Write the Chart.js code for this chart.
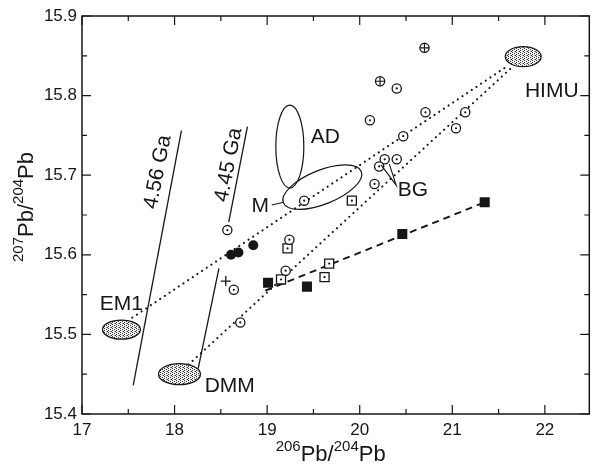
<!DOCTYPE html>
<html>
<head>
<meta charset="utf-8">
<title>207Pb/204Pb vs 206Pb/204Pb</title>
<script src="https://cdn.jsdelivr.net/npm/chart.js@4"></script>
<style>
    html, body { margin: 0; padding: 0; background: #fff; }
    #wrap { width: 597px; height: 465px; }
</style>
</head>
<body>
<div id="wrap"><canvas id="pbChart" width="597" height="465"></canvas></div>
<script>
// Tick labels
const xTicks = [17, 18, 19, 20, 21, 22];
const yTicks = [15.4, 15.5, 15.6, 15.7, 15.8, 15.9];

// Samples (206Pb/204Pb, 207Pb/204Pb)
const dotCirclesX = [18.57, 18.64, 18.71, 19.40, 19.24, 19.20, 20.16, 20.11, 20.40, 20.71, 20.47, 20.27, 20.21, 20.40, 21.04, 21.14];
const dotCirclesY = [15.631, 15.556, 15.515, 15.668, 15.619, 15.580, 15.689, 15.769, 15.809, 15.779, 15.749, 15.720, 15.711, 15.720, 15.759, 15.779];
const plusCirclesX = [20.70, 20.22];
const plusCirclesY = [15.860, 15.818];
const dotSquaresX = [19.915, 19.22, 19.15, 19.67, 19.62];
const dotSquaresY = [15.668, 15.608, 15.569, 15.589, 15.572];
const blackSquaresX = [19.01, 19.43, 20.46, 21.35];
const blackSquaresY = [15.565, 15.560, 15.626, 15.666];
const blackCirclesX = [18.61, 18.69, 18.85];
const blackCirclesY = [15.600, 15.603, 15.612];
const crossX = [18.553];
const crossY = [15.567];

// Lines
const trendX = [18.98, 21.35];
const trendY = [15.555, 15.666];
const em1HimuX = [17.543, 21.606];
const em1HimuY = [15.521, 15.838];
const dmmHimuX = [18.15, 21.63];
const dmmHimuY = [15.462, 15.834];
const geo456X = [17.553, 18.074];
const geo456Y = [15.436, 15.756];
const geo445LowX = [18.255, 18.479];
const geo445LowY = [15.457, 15.583];
const geo445HighX = [18.585, 18.787];
const geo445HighY = [15.641, 15.761];

// Mantle end-members
const endMembers = ['EM1', 'DMM', 'HIMU'];
const endMemberX = [17.426, 18.053, 21.766];
const endMemberY = [15.506, 15.450, 15.849];

const INK = '#161616';
const FONT = '"Liberation Sans", Arial, sans-serif';

function pairs(xs, ys) {
    return xs.map((x, i) => ({ x: x, y: ys[i] }));
}

// Ellipses, labels and frame are drawn on top of the chart scales
const annotations = {
    id: 'annotations',
    beforeDatasetsDraw(chart) {
        const { ctx, scales: { x, y } } = chart;
        const pattern = makeStipple(ctx);
        const radii = [[19, 9.5], [21, 10.5], [18, 10]];
        ctx.save();
        ctx.strokeStyle = INK;
        ctx.lineWidth = 1.2;
        endMembers.forEach((name, i) => {
            ctx.beginPath();
            ctx.ellipse(x.getPixelForValue(endMemberX[i]), y.getPixelForValue(endMemberY[i]),
                radii[i][0], radii[i][1], 0, 0, Math.PI * 2);
            ctx.fillStyle = pattern;
            ctx.fill();
            ctx.stroke();
        });
        // AD field
        ctx.beginPath();
        ctx.ellipse(x.getPixelForValue(19.245), y.getPixelForValue(15.736), 14, 41.5, 0, 0, Math.PI * 2);
        ctx.stroke();
        // M field
        ctx.beginPath();
        ctx.ellipse(x.getPixelForValue(19.596), y.getPixelForValue(15.685), 42, 17, -22 * Math.PI / 180, 0, Math.PI * 2);
        ctx.stroke();
        ctx.restore();
    },
    afterDatasetsDraw(chart) {
        const { ctx, scales: { x, y } } = chart;
        const px = v => x.getPixelForValue(v);
        const py = v => y.getPixelForValue(v);
        ctx.save();
        ctx.fillStyle = INK;
        ctx.strokeStyle = INK;

        // inner dot / plus of the open symbols, at the library's point positions
        chart.getSortedVisibleDatasetMetas().forEach(meta => {
            const mark = chart.data.datasets[meta.index].innerMark;
            if (!mark) return;
            meta.data.forEach(pt => {
                if (mark === 'dot') {
                    ctx.beginPath();
                    ctx.arc(pt.x, pt.y, 1.1, 0, Math.PI * 2);
                    ctx.fill();
                } else {
                    ctx.lineWidth = 1.2;
                    ctx.beginPath();
                    ctx.moveTo(pt.x - 4.6, pt.y); ctx.lineTo(pt.x + 4.6, pt.y);
                    ctx.moveTo(pt.x, pt.y - 4.6); ctx.lineTo(pt.x, pt.y + 4.6);
                    ctx.stroke();
                }
            });
        });

        ctx.font = '21px ' + FONT;
        ctx.textAlign = 'center';
        ctx.textBaseline = 'middle';
        const labels = [
            ['EM1', 17.426, 15.5385],
            ['DMM', 18.596, 15.435],
            ['HIMU', 22.074, 15.805],
            ['AD', 19.628, 15.748],
            ['BG', 20.574, 15.681],
            ['M', 18.926, 15.661]
        ];
        labels.forEach(l => ctx.fillText(l[0], px(l[1]), py(l[2])));

        // rotated age labels
        [['4.56 Ga', 17.819, 15.704], ['4.45 Ga', 18.585, 15.713]].forEach(l => {
            ctx.save();
            ctx.translate(px(l[1]), py(l[2]));
            ctx.rotate(-79 * Math.PI / 180);
            ctx.fillText(l[0], 0, 0);
            ctx.restore();
        });

        // leader for M and arrow for BG
        ctx.lineWidth = 1.1;
        ctx.beginPath();
        ctx.moveTo(px(19.05), py(15.6625));
        ctx.lineTo(px(19.18), py(15.666));
        ctx.moveTo(px(20.23), py(15.713));
        ctx.lineTo(px(20.394), py(15.6875));
        ctx.lineTo(px(20.32), py(15.714));
        ctx.stroke();
        ctx.restore();
    },
    afterDraw(chart) {
        const { ctx, chartArea: a, scales: { x, y } } = chart;
        ctx.save();
        ctx.strokeStyle = INK;
        ctx.lineWidth = 1.5;
        ctx.strokeRect(a.left, a.top, a.right - a.left, a.bottom - a.top);
        ctx.lineWidth = 1.2;
        ctx.beginPath();
        for (let v = 17; v <= 22.25; v += 0.5) {
            const p = x.getPixelForValue(v);
            const len = Number.isInteger(v) ? 9 : 5;
            ctx.moveTo(p, a.bottom); ctx.lineTo(p, a.bottom - len);
            ctx.moveTo(p, a.top); ctx.lineTo(p, a.top + len);
        }
        for (let k = 0; k <= 10; k++) {
            const p = y.getPixelForValue(15.4 + k * 0.05);
            const len = k % 2 === 0 ? 9 : 5;
            ctx.moveTo(a.left, p); ctx.lineTo(a.left + len, p);
            ctx.moveTo(a.right, p); ctx.lineTo(a.right - len, p);
        }
        ctx.stroke();

        // axis titles with superscripts
        drawIsotopeTitle(ctx, '206', '204', (a.left + a.right) / 2 - 5, 461, 0);
        drawIsotopeTitle(ctx, '207', '204', 33, 207, -Math.PI / 2);
        ctx.restore();
    }
};

function makeStipple(ctx) {
    const c = document.createElement('canvas');
    c.width = 4;
    c.height = 4;
    const g = c.getContext('2d');
    g.fillStyle = '#eeeeee';
    g.fillRect(0, 0, 4, 4);
    g.fillStyle = '#3a3a3a';
    g.fillRect(0, 0, 1, 1);
    g.fillRect(2, 1, 1, 1);
    g.fillRect(0, 2, 1, 1);
    g.fillRect(3, 3, 1, 1);
    g.fillStyle = '#999';
    g.fillRect(2, 3, 1, 1);
    return ctx.createPattern(c, 'repeat');
}

function drawIsotopeTitle(ctx, top, bottom, cx, cy, angle) {
    const big = '22px ' + FONT;
    const small = '15px ' + FONT;
    const parts = [[top, small, -10], ['Pb/', big, 0], [bottom, small, -10], ['Pb', big, 0]];
    let total = 0;
    parts.forEach(p => { ctx.font = p[1]; p.push(ctx.measureText(p[0]).width); total += p[3]; });
    ctx.save();
    ctx.translate(cx, cy);
    ctx.rotate(angle);
    ctx.fillStyle = INK;
    ctx.textAlign = 'left';
    ctx.textBaseline = 'alphabetic';
    let cur = -total / 2;
    parts.forEach(p => {
        ctx.font = p[1];
        ctx.fillText(p[0], cur, p[2]);
        cur += p[3];
    });
    ctx.restore();
}

function lineSet(xs, ys, dash, width) {
    return {
        type: 'line',
        data: pairs(xs, ys),
        borderColor: INK,
        borderWidth: width,
        borderDash: dash,
        borderCapStyle: dash.length && dash[0] < 1 ? 'round' : 'butt',
        pointRadius: 0,
        fill: false,
        order: 5
    };
}

function pointSet(xs, ys, style, extra) {
    return Object.assign({
        type: 'scatter',
        data: pairs(xs, ys),
        pointStyle: style,
        borderColor: INK,
        backgroundColor: INK,
        order: 1
    }, extra || {});
}

const openStyle = { pointRadius: 4.6, borderWidth: 1.3, backgroundColor: '#fff' };

const ctx = document.getElementById('pbChart').getContext('2d');

new Chart(ctx, {
    type: 'scatter',
    data: {
        datasets: [
            pointSet(dotCirclesX, dotCirclesY, 'circle', Object.assign({ innerMark: 'dot' }, openStyle)),
            pointSet(plusCirclesX, plusCirclesY, 'circle', Object.assign({ innerMark: 'plus' }, openStyle)),
            pointSet(dotSquaresX, dotSquaresY, 'rect', Object.assign({ innerMark: 'dot' }, openStyle, { pointRadius: 6.4 })),
            pointSet(blackSquaresX, blackSquaresY, 'rect', { pointRadius: 7.1, borderWidth: 0 }),
            pointSet(blackCirclesX, blackCirclesY, 'circle', { pointRadius: 5, borderWidth: 0 }),
            pointSet(crossX, crossY, 'cross', { pointRadius: 5, borderWidth: 1.3 }),
            lineSet(trendX, trendY, [7, 5], 1.9),
            lineSet(em1HimuX, em1HimuY, [0.1, 5.5], 2.1),
            lineSet(dmmHimuX, dmmHimuY, [0.1, 5.5], 2.1),
            lineSet(geo456X, geo456Y, [], 1.3),
            lineSet(geo445LowX, geo445LowY, [], 1.3),
            lineSet(geo445HighX, geo445HighY, [], 1.3)
        ]
    },
    options: {
        responsive: false,
        devicePixelRatio: 1,
        animation: false,
        layout: { padding: { top: 16, right: 0, left: 0, bottom: 0 } },
        plugins: {
            legend: { display: false },
            tooltip: { enabled: false }
        },
        scales: {
            x: {
                type: 'linear',
                min: 17,
                max: 22.48,
                grid: { display: false, drawTicks: false },
                border: { display: false },
                afterBuildTicks: s => { s.ticks = xTicks.map(v => ({ value: v })); },
                afterFit: s => { s.height = 51; },
                ticks: {
                    padding: 6,
                    color: INK,
                    font: { family: FONT, size: 17 },
                    maxRotation: 0
                }
            },
            y: {
                type: 'linear',
                min: 15.4,
                max: 15.9,
                grid: { display: false, drawTicks: false },
                border: { display: false },
                afterBuildTicks: s => { s.ticks = yTicks.map(v => ({ value: v })); },
                afterFit: s => { s.width = 82; },
                ticks: {
                    padding: 5,
                    color: INK,
                    font: { family: FONT, size: 17 },
                    callback: v => v.toFixed(1)
                }
            }
        }
    },
    plugins: [annotations]
});
</script>
</body>
</html>
